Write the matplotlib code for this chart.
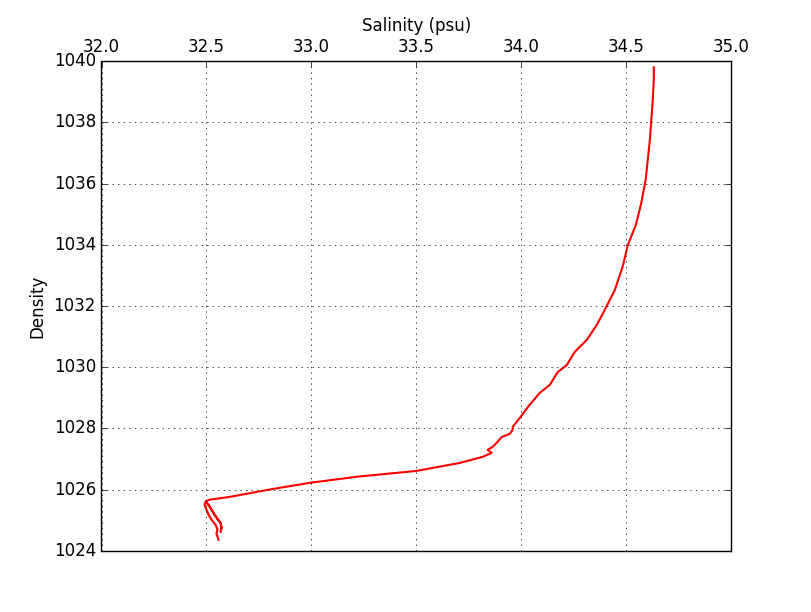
import matplotlib
matplotlib.use("Agg")
import matplotlib.pyplot as plt

salinity = [32.558, 32.553, 32.548, 32.553, 32.544, 32.525, 32.510, 32.501, 32.491,
            32.496,
            32.510, 32.525, 32.539, 32.553, 32.568, 32.572, 32.568,
            32.572, 32.568, 32.553, 32.539, 32.525, 32.510, 32.498,
            32.515, 32.610, 32.816, 32.992, 33.216, 33.502, 33.579, 33.707, 33.817,
            33.860, 33.841, 33.865, 33.884, 33.908, 33.946, 33.960, 33.960, 33.994,
            34.041, 34.089, 34.137, 34.175, 34.218, 34.256, 34.313, 34.361, 34.399,
            34.447, 34.485, 34.509, 34.547, 34.571, 34.594, 34.604, 34.614, 34.623,
            34.628, 34.633, 34.633]
density = [1024.36, 1024.46, 1024.56, 1024.69, 1024.85, 1025.01, 1025.18, 1025.34, 1025.50,
           1025.60,
           1025.50, 1025.34, 1025.18, 1025.04, 1024.91, 1024.75, 1024.62,
           1024.75, 1024.91, 1025.04, 1025.18, 1025.34, 1025.50, 1025.62,
           1025.67, 1025.76, 1026.02, 1026.22, 1026.42, 1026.61, 1026.71, 1026.87, 1027.07,
           1027.20, 1027.30, 1027.40, 1027.53, 1027.72, 1027.82, 1027.95, 1028.05, 1028.34,
           1028.77, 1029.16, 1029.42, 1029.84, 1030.07, 1030.50, 1030.89, 1031.38, 1031.87,
           1032.52, 1033.30, 1033.99, 1034.64, 1035.30, 1036.11, 1036.77, 1037.42, 1038.24,
           1038.73, 1039.38, 1039.80]

plt.style.use('classic')
plt.rcParams['figure.facecolor'] = 'white'

fig = plt.figure(figsize=(8.12, 6.12), dpi=100)
ax = fig.add_subplot(111)
ax.plot(salinity, density, color='red', linewidth=1.5)
ax.set_xlim(32.0, 35.0)
ax.set_ylim(1024, 1040)
ax.set_xticks([32.0, 32.5, 33.0, 33.5, 34.0, 34.5, 35.0])
ax.set_yticks(range(1024, 1041, 2))
ax.ticklabel_format(useOffset=False)
ax.xaxis.set_ticks_position('top')
ax.xaxis.set_label_position('top')
ax.set_xlabel('Salinity (psu)')
ax.set_ylabel('Density')
ax.grid(True)
fig.savefig('out.png', dpi=100, facecolor='white')
